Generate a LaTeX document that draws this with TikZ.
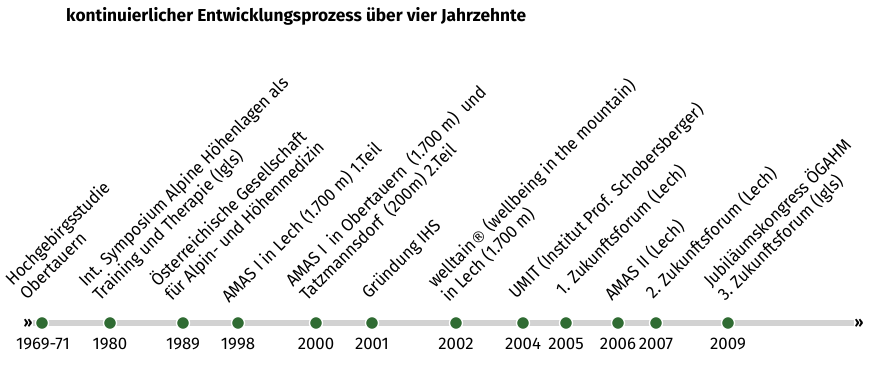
\documentclass[tikz,border=0pt]{standalone}
\usepackage{fontspec}
\setmainfont{Fira Sans}[FakeStretch=0.94]
\newfontfamily\titlefont{Fira Sans}
\newfontfamily\yearfont{Fira Sans}
\newfontfamily\regfont{DejaVu Sans}
\newcommand{\regmark}{{\regfont\fontsize{15}{15}\selectfont ®}}
\definecolor{dotgreen}{HTML}{2F6B32}
\definecolor{linegray}{HTML}{D2D2D2}
\tikzset{
  evt/.style={circle, fill=dotgreen, draw=white, line width=1.3pt, minimum size=13pt, inner sep=0pt},
  lbl/.style={rotate=45, anchor=south west, align=left, inner sep=0pt, text depth=0pt,
    font=\fontsize{17.5}{19.8}\selectfont},
  yr/.style={anchor=base, inner sep=0pt, font=\yearfont\fontsize{16.8}{20}\selectfont},
  chev/.style={inner sep=0pt, font=\bfseries\fontsize{15}{15}\selectfont}
}
\begin{document}
\begin{tikzpicture}[x=1pt,y=-1pt]
\useasboundingbox (0,0) rectangle (873,371);
\node[anchor=base west, inner sep=0pt, font=\titlefont\bfseries\fontsize{17.3}{22}\selectfont] (title) at (66,22)
  {kontinuierlicher Entwicklungsprozess über vier Jahrzehnte};
% timeline
\coordinate (tlL) at (33,323);
\coordinate (tlR) at (854,323);
\draw[linegray, line width=6pt] (tlL) -- (tlR);
\node[chev] (chL) at (28,323) {»};
\node[chev] (chR) at (859,323) {»};
% dots
\foreach \i/\x in {1/42,2/110,3/183,4/238,5/316,6/372,7/456,8/523,9/566,10/618,11/656,12/728}
  \node[evt] (d\i) at (\x,323) {};
% years
\node[yr] (y1) at (43,350) {1969-71};
\node[yr] (y2) at (110,350) {1980};
\node[yr] (y3) at (183,350) {1989};
\node[yr] (y4) at (238,350) {1998};
\node[yr] (y5) at (316,350) {2000};
\node[yr] (y6) at (372,350) {2001};
\node[yr] (y7) at (456,350) {2002};
\node[yr] (y8) at (523,350) {2004};
\node[yr] (y9) at (566,350) {2005};
\node[yr] (y10) at (618,350) {2006};
\node[yr] (y11) at (656,350) {2007};
\node[yr] (y12) at (728,350) {2009};
% labels
\node[lbl] (l1) at (27,301) {Hochgebirgsstudie\\Obertauern};
\node[lbl] (l2) at (100,302) {Int. Symposium Alpine Höhenlagen als\\Training und Therapie (Igls)};
\node[lbl] (l3) at (172,302) {Österreichische Gesellschaft\\für Alpin- und Höhenmedizin};
\node[lbl] (l4) at (229,304) {AMAS I in Lech (1.700 m) 1.Teil};
\node[lbl] (l5) at (307,302) {AMAS I \ in Obertauern \ (1.700 m) \ und\\Tatzmannsdorf \ (200m) 2.Teil};
\node[lbl] (l6) at (369,300) {Gründung IHS};
\node[lbl] (l7) at (449,303) {welltain\regmark{} (wellbeing in the mountain)\\in Lech (1.700 m)};
\node[lbl] (l8) at (516,300) {UMIT (Institut Prof. Schobersberger)};
\node[lbl] (l9) at (563,297) {1. Zukunftsforum (Lech)};
\node[lbl] (l10) at (612,302) {AMAS II (Lech)};
\node[lbl] (l11) at (653,300) {2. Zukunftsforum (Lech)};
\node[lbl] (l12) at (725,302) {Jubiläumskongress ÖGAHM\\3. Zukunftsforum (Igls)};
\end{tikzpicture}
\end{document}
